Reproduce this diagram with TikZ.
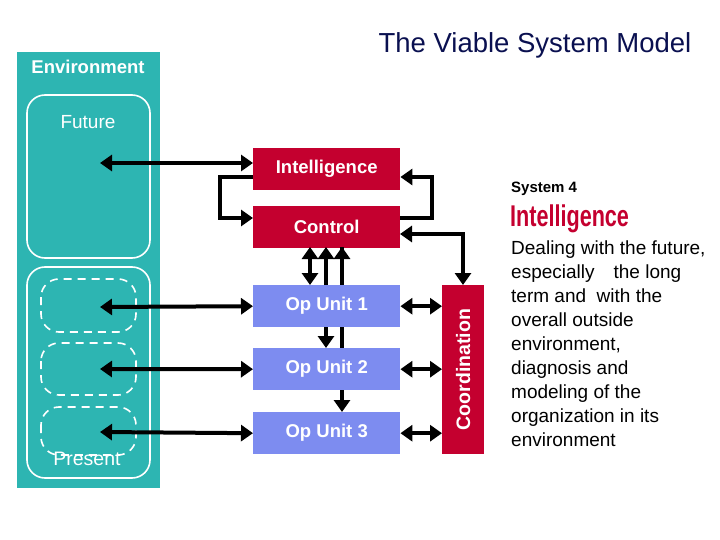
\documentclass[tikz,border=0pt]{standalone}
\usepackage{fontspec}
\setmainfont{Liberation Sans}
\usetikzlibrary{arrows.meta}
\definecolor{teal1}{HTML}{2DB5B2}
\definecolor{red1}{HTML}{C4002F}
\definecolor{blue1}{HTML}{7D8CF0}
\definecolor{navy}{HTML}{0A1050}
\begin{document}
\begin{tikzpicture}[x=1pt,y=-1pt,
 box/.style={draw=none,minimum width=147pt,minimum height=42pt,text=white,font=\bfseries\fontsize{18.5}{20}\selectfont,anchor=north west},
 rbox/.style={box,fill=red1},
 bbox/.style={box,fill=blue1},
 ar/.style={line width=4pt,-{Triangle[length=12pt,width=16pt]}},
 dar/.style={line width=4pt,{Triangle[length=12pt,width=16pt]}-{Triangle[length=12pt,width=16pt]}},
 dashbox/.style={draw=white,line width=1.6pt,dash pattern=on 8pt off 6pt,rounded corners=18pt}]
\useasboundingbox (0,0) rectangle (720,540);
\fill[teal1] (17,52) rectangle (160,488);
\node[text=white,font=\bfseries\fontsize{18.5}{20}\selectfont] (env) at (88,67) {Environment};
\draw[white,line width=1.6pt,rounded corners=18pt] (27,95) rectangle (150,258);
\draw[white,line width=1.6pt,rounded corners=18pt] (27,267) rectangle (150,478);
\node[text=white,font=\fontsize{19}{21}\selectfont] (fut) at (88,122) {Future};
\node[text=white,font=\fontsize{19.5}{21}\selectfont] (pres) at (87,459) {Present};
\draw[dashbox] (41,279) rectangle (136,332);
\draw[dashbox] (41,343) rectangle (136,395);
\draw[dashbox] (41,407) rectangle (136,455);
\coordinate (e0) at (100,163);
\coordinate (e1) at (100,307);
\coordinate (e2) at (100,369);
\coordinate (e3) at (100,432);
\node[text=navy,font=\fontsize{27.5}{30}\selectfont,anchor=west] (title) at (375,45) {The Viable System Model};
% boxes
\node[rbox] (int) at (253,148) {Intelligence};
\node[rbox] (con) at (253,206) {Control};
\draw[line width=4pt] (342,348) -- (342,247);
\node[bbox] (op1) at (253,285) {Op Unit 1};
\node[bbox] (op2) at (253,348) {Op Unit 2};
\node[bbox] (op3) at (253,412) {Op Unit 3};
\node[fill=red1,minimum width=42pt,minimum height=169pt,anchor=north west] (coord) at (442,285) {};
\node[rotate=90,text=white,font=\bfseries\fontsize{19.5}{21}\selectfont] (ctext) at (coord.center) {Coordination};
% arrows
\draw[dar] (e0) -- (253,163);
\draw[dar] (e1) -- (op1.west);
\draw[dar] (e2) -- (op2.west);
\draw[dar] (e3) -- (op3.west);
\draw[ar] (253,177) -- (220,177) -- (220,218) -- (con.west|-0,218);
\draw[ar] (400,218) -- (432,218) -- (432,177) -- (int.east|-0,177);
\draw[dar] (400,234) -- (463,234) -- (coord.north-|463,0);
\draw[dar] (310,285) -- (310,247);
\draw[ar] (326,285) -- (326,247);
\draw[ar] (342,262) -- (342,247);
\draw[ar] (326,327) -- (326,348);
\draw[ar] (342,390) -- (342,412);
\draw[dar] (op1.east) -- (coord.west|-op1.east);
\draw[dar] (op2.east) -- (coord.west|-op2.east);
\draw[dar] (op3.east) -- (coord.west|-op3.east);
% right text
\node[anchor=west,inner sep=0pt,font=\bfseries\fontsize{15}{17}\selectfont] (s4) at (511,189) {System 4};
\node[anchor=west,inner sep=0pt,text=red1,font=\bfseries\fontsize{30}{32}\selectfont,xscale=0.72] (intel) at (510,219) {Intelligence};
\node[anchor=north west,align=left,inner sep=0pt,font=\fontsize{19}{24}\selectfont] (desc) at (511,241) {Dealing with the future,\\especially\quad the long\\term and\ \ with the\\overall outside\\environment,\\diagnosis and\\modeling of the\\organization in its\\environment};
\end{tikzpicture}
\end{document}
